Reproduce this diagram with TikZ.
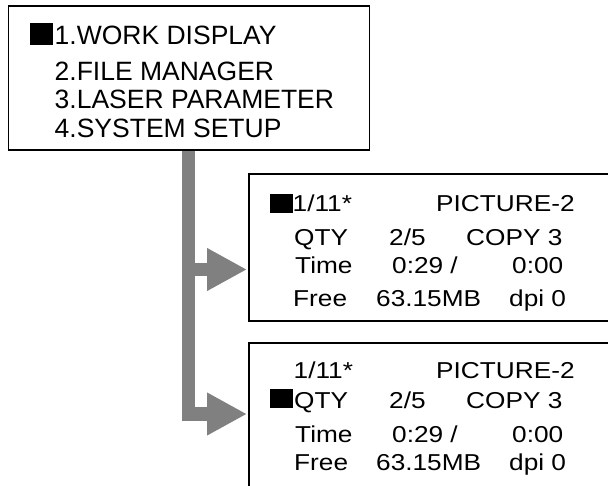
\documentclass[tikz,border=0pt]{standalone}
\usepackage{fontspec}
\setmainfont{Liberation Sans}
\newfontfamily\menufont{Liberation Sans}
\newfontfamily\lcdfont[FakeStretch=1.14]{Liberation Sans}
\usetikzlibrary{arrows.meta}
\definecolor{flowgray}{RGB}{128,128,128}
\begin{document}
\begin{tikzpicture}[x=1pt,y=-1pt,
  panel/.style={draw=black, line width=1.5pt, inner sep=0pt, anchor=north west, fill=white},
  menutxt/.style={anchor=base west, inner sep=0pt, font=\menufont\fontsize{26.5}{26.5}\selectfont},
  lcdtxt/.style={anchor=base west, inner sep=0pt, font=\lcdfont\fontsize{23}{23}\selectfont},
  cursor/.style={fill=black, inner sep=0pt, anchor=north west, minimum width=23pt},
  flow/.style={draw=flowgray, line width=13.5pt, -{Triangle[length=40pt,width=40pt]}}]
\useasboundingbox (0,0) rectangle (608,485);
\clip (0,0) rectangle (608,485);
\fill[white] (0,0) rectangle (608,485);

% panels
\node[panel, minimum width=361pt, minimum height=144pt] (menu) at (7.5,5) {};
\node[panel, minimum width=420pt, minimum height=147pt] (work) at (248,173) {};
\node[panel, minimum width=420pt, minimum height=200pt] (qty) at (248,342) {};

% connectors
\coordinate (barx) at (188.5,0);
\coordinate (t1) at (247,269.5);
\coordinate (t2) at (247,414);
\draw[flow] (menu.south -| barx) |- (t2);
\draw[flow] (barx |- t1) -- (t1);

% menu text
\node[cursor, minimum height=22pt] (c0) at (30,23) {};
\node[menutxt] (m1) at (54.5,44) {1.WORK DISPLAY};
\node[menutxt] (m2) at (54.5,80) {2.FILE MANAGER};
\node[menutxt] (m3) at (54.5,108) {3.LASER PARAMETER};
\node[menutxt] (m4) at (54.5,137) {4.SYSTEM SETUP};

% work display
\node[cursor, minimum height=19pt] (c1) at (270,194) {};
\node[lcdtxt] (a1) at (292.5,211) {1/11*};
\node[lcdtxt] (a2) at (436,211) {PICTURE-2};
\node[lcdtxt] (b1) at (294,245) {QTY};
\node[lcdtxt] (b2) at (389,245) {2/5};
\node[lcdtxt] (b3) at (466,245) {COPY 3};
\node[lcdtxt] (e1) at (295,273) {Time};
\node[lcdtxt] (e2) at (392,273) {0:29 /};
\node[lcdtxt] (e3) at (512,273) {0:00};
\node[lcdtxt] (d1) at (293,306) {Free};
\node[lcdtxt] (d2) at (376,306) {63.15MB};
\node[lcdtxt] (d3) at (509,306) {dpi 0};

% qty display
\node[cursor, minimum height=19pt] (c2) at (270,389) {};
\node[lcdtxt] (qa1) at (293.5,378) {1/11*};
\node[lcdtxt] (qa2) at (436,378) {PICTURE-2};
\node[lcdtxt] (qb1) at (294,408) {QTY};
\node[lcdtxt] (qb2) at (389,408) {2/5};
\node[lcdtxt] (qb3) at (466,408) {COPY 3};
\node[lcdtxt] (qe1) at (295,442) {Time};
\node[lcdtxt] (qe2) at (392,442) {0:29 /};
\node[lcdtxt] (qe3) at (512,442) {0:00};
\node[lcdtxt] (qd1) at (294,470) {Free};
\node[lcdtxt] (qd2) at (376,470) {63.15MB};
\node[lcdtxt] (qd3) at (509,470) {dpi 0};
\end{tikzpicture}
\end{document}
